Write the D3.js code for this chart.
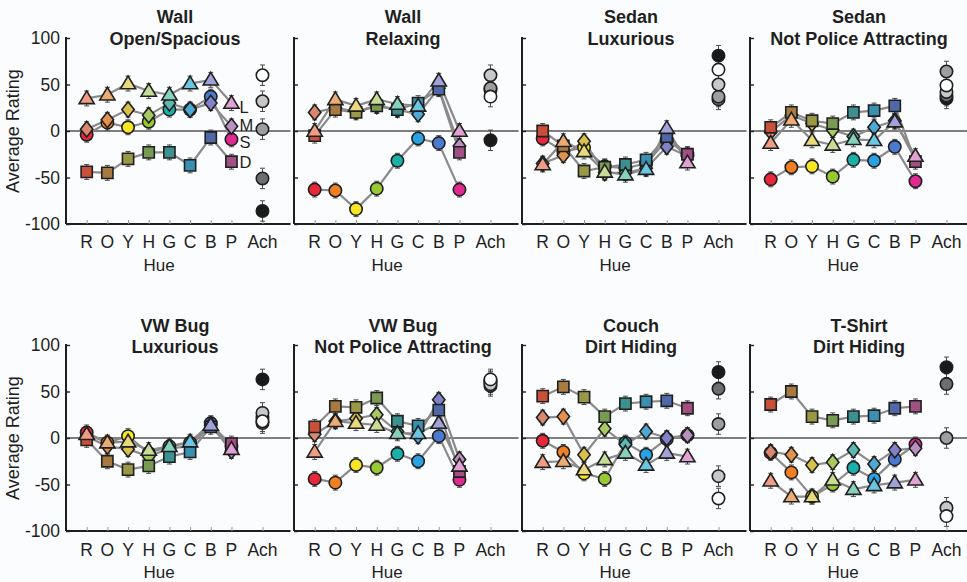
<!DOCTYPE html>
<html>
<head>
<meta charset="utf-8">
<script src="https://cdn.jsdelivr.net/npm/d3@7"></script>
<style>
  html, body { margin: 0; padding: 0; background: #fbfcfe; }
  svg { display: block; font-family: "Liberation Sans", Arial, Helvetica, sans-serif; }
</style>
</head>
<body>
<svg id="chart" width="967" height="582"></svg>
<script>
// Hue categories along the x axis, followed by the achromatic column
const HUES = ["R", "O", "Y", "H", "G", "C", "B", "P"];
const ACH_LABEL = "Ach";
const Y_TICKS = [100, 50, 0, -50, -100];

// Panel titles (object, adjective)
const PANEL_TITLES = [
  ["Wall", "Open/Spacious"],
  ["Wall", "Relaxing"],
  ["Sedan", "Luxurious"],
  ["Sedan", "Not Police Attracting"],
  ["VW Bug", "Luxurious"],
  ["VW Bug", "Not Police Attracting"],
  ["Couch", "Dirt Hiding"],
  ["T-Shirt", "Dirt Hiding"]
];

// Average ratings per panel, one value per hue (R..P)
const LIGHT_VALUES = [      // L: light colours (triangles)
  [35, 39, 51, 43, 39, 51, 55, 30],
  [0, 34, 27, 34, 29, 27, 54, 0],
  [-36, -11, -22, -44, -47, -41, 3, -34],
  [-13, 12, -10, -15, -9, -10, 10, -27],
  [4, -5, -4, -13, -9, -4, 14, -12],
  [-15, 18, 16, 14, 5, 5, 16, -30],
  [-26, -25, -34, -23, -16, -29, -16, -20],
  [-46, -63, -63, -45, -55, -51, -48, -45]
];
const MUTED_VALUES = [      // M: muted colours (diamonds)
  [2, 12, 23, 17, 30, 23, 30, 5],
  [20, 25, 21, 27, 23, 18, 46, -16],
  [-35, -26, -11, -45, -45, -40, -17, -27],
  [-1, 17, 8, 1, -6, 4, 11, -31],
  [2, -9, -12, -20, -11, -9, 14, -14],
  [4, 18, 21, 25, 7, 2, 41, -23],
  [22, 23, -18, 10, -7, 7, 0, 3],
  [-15, -18, -29, -26, -13, -28, -13, -11]
];
const SAT_VALUES = [        // S: saturated colours (circles)
  [-4, 9, 4, 10, 23, 23, 37, -9],
  [-63, -64, -84, -62, -32, -8, -13, -63],
  [-8, -22, -18, -38, -40, -35, -10, -25],
  [-52, -39, -38, -49, -31, -32, -17, -54],
  [6, -5, 2, -16, -9, -5, 16, -9],
  [-44, -48, -29, -32, -17, -25, 2, -45],
  [-3, -15, -38, -44, -5, -18, -1, 3],
  [-16, -37, -63, -50, -32, -44, -23, -7]
];
const DARK_VALUES = [       // D: dark colours (squares)
  [-44, -45, -30, -23, -23, -37, -7, -33],
  [-5, 23, 20, 27, 23, 30, 45, -23],
  [0, -16, -43, -39, -36, -31, -6, -25],
  [4, 20, 11, 8, 20, 22, 27, -33],
  [-2, -25, -34, -30, -20, -15, 12, -6],
  [12, 34, 33, 43, 18, 13, 30, -36],
  [45, 55, 44, 23, 37, 39, 40, 32],
  [36, 50, 23, 19, 23, 24, 32, 34]
];
// Achromatic ratings per panel: [white, light gray, mid gray, dark gray, black]
const ACH_VALUES = [
  [60, 32, 2, -51, -86],
  [37, 60, 46, 44, -10],
  [66, 50, 37, 34, 81],
  [49, 42, 64, 38, 35],
  [18, 27, 22, 16, 63],
  [63, 58, 60, 56, 61],
  [-65, -41, 15, 53, 71],
  [-84, -75, 0, 58, 76]
];
const HUE_ERR = 8;   // half-length of error bars, rating units
const ACH_ERR = 11;

// Marker fills per lightness series
const LIGHT_COLORS = ["#ee9c84", "#eaac74", "#e8d87e", "#c8dc96", "#86d0bc", "#6cc6e0", "#a2a2da", "#e0a2d2"];
const MUTED_COLORS = ["#d8886e", "#e0924e", "#d8c04a", "#a8c862", "#5cb8b0", "#4ea8d2", "#8282c8", "#b890c2"];
const SAT_COLORS   = ["#e8283a", "#f08022", "#f8e622", "#98c832", "#1ab0aa", "#2aa2e2", "#4a7ad0", "#e02a92"];
const DARK_COLORS  = ["#c85038", "#a87a42", "#989846", "#789a52", "#3c9090", "#3a90b2", "#5068a8", "#a05082"];
const ACH_COLORS   = ["#ffffff", "#c8c8c8", "#9e9e9e", "#6e6e6e", "#1a1a1a"];

const SERIES = [   // drawing order: circles, diamonds, squares, triangles
  { key: "S", shape: "circle",   values: SAT_VALUES,   colors: SAT_COLORS },
  { key: "M", shape: "diamond",  values: MUTED_VALUES, colors: MUTED_COLORS },
  { key: "D", shape: "square",   values: DARK_VALUES,  colors: DARK_COLORS },
  { key: "L", shape: "triangle", values: LIGHT_VALUES, colors: LIGHT_COLORS }
];

const svg = d3.select("#chart");
const COL_LEFT = [66, 294, 522, 750];
const ROWS = [
  { top: 38, bottom: 224, title: [23, 45], tick: 248, hue: 271 },
  { top: 345, bottom: 531, title: [332, 353], tick: 556, hue: 578 }
];
const PANEL_W = 227.5;
const INK = "#1f1f1f";

function markerPath(shape) {
  switch (shape) {
    case "triangle": return "M0,-7.5L7.6,5.2L-7.6,5.2Z";
    case "diamond":  return "M0,-7.8L6.2,0L0,7.8L-6.2,0Z";
    case "square":   return "M-5.6,-5.6H5.6V5.6H-5.6Z";
    default:         return d3.symbol(d3.symbolCircle, Math.PI * 6.2 * 6.2)();
  }
}

PANEL_TITLES.forEach((title, p) => {
  const row = ROWS[Math.floor(p / 4)];
  const col = p % 4;
  const left = COL_LEFT[col];
  const x = d3.scaleLinear().domain([0, 11]).range([left, left + PANEL_W]);
  const y = d3.scaleLinear().domain([-100, 100]).range([row.bottom, row.top]);
  const g = svg.append("g");

  // zero reference line
  g.append("line")
    .attr("x1", left).attr("x2", left + PANEL_W - 3)
    .attr("y1", y(0)).attr("y2", y(0))
    .attr("stroke", "#555").attr("stroke-width", 1.4);

  // y axis with inward ticks
  const yAxis = d3.axisRight(y).tickValues(Y_TICKS).tickSize(4).tickFormat("");
  const ya = g.append("g").attr("transform", `translate(${left},0)`).call(yAxis);
  ya.select(".domain").attr("d", `M0,${row.top - 1}V${row.bottom}`).attr("stroke", INK).attr("stroke-width", 2);
  ya.selectAll(".tick line").attr("stroke", INK).attr("stroke-width", 1.4);

  // x axis with inward ticks at each category
  const xPositions = HUES.map((h, i) => i + 1).concat([9.5]);
  const xAxis = d3.axisTop(x).tickValues(xPositions).tickSize(4).tickFormat("");
  const xa = g.append("g").attr("transform", `translate(0,${row.bottom})`).call(xAxis);
  xa.select(".domain").attr("d", `M${left},0H${left + PANEL_W - 3}`).attr("stroke", INK).attr("stroke-width", 2);
  xa.selectAll(".tick line").attr("stroke", "#999").attr("stroke-width", 1);

  // category labels
  const labels = HUES.concat([ACH_LABEL]);
  g.selectAll(".xl").data(labels).enter().append("text")
    .attr("x", (d, i) => x(xPositions[i])).attr("y", row.tick)
    .attr("text-anchor", "middle").attr("font-size", 17.5).attr("fill", INK)
    .text(d => d);
  g.append("text").attr("x", x(4.5)).attr("y", row.hue)
    .attr("text-anchor", "middle").attr("font-size", 17).attr("fill", INK).text("Hue");

  // titles
  title.forEach((t, i) => {
    g.append("text").attr("x", left + 109).attr("y", row.title[i])
      .attr("text-anchor", "middle").attr("font-size", 18).attr("font-weight", "bold")
      .attr("fill", INK).text(t);
  });

  // y tick labels and axis title on the first column only
  if (col === 0) {
    g.selectAll(".yl").data(Y_TICKS).enter().append("text")
      .attr("x", left - 6).attr("y", d => y(d)).attr("dy", "0.36em")
      .attr("text-anchor", "end").attr("font-size", 17.5).attr("fill", INK)
      .text(d => d);
    g.append("text")
      .attr("transform", `translate(19,${y(0)}) rotate(-90)`)
      .attr("text-anchor", "middle").attr("font-size", 18).attr("fill", INK)
      .text("Average Rating");
  }

  // connecting lines
  const line = d3.line().x((d, i) => x(i + 1)).y(d => y(d));
  SERIES.forEach(s => {
    g.append("path").attr("d", line(s.values[p]))
      .attr("fill", "none").attr("stroke", "#8a8a8a").attr("stroke-width", 2.2);
  });

  // error bars
  const eb = g.append("g").attr("stroke", "#4a4a4a").attr("stroke-width", 1);
  function errorBar(cx, v, err) {
    eb.append("line").attr("x1", cx).attr("x2", cx).attr("y1", y(v - err)).attr("y2", y(v + err));
    [v - err, v + err].forEach(e => eb.append("line")
      .attr("x1", cx - 2.5).attr("x2", cx + 2.5).attr("y1", y(e)).attr("y2", y(e)));
  }
  SERIES.forEach(s => s.values[p].forEach((v, i) => errorBar(x(i + 1), v, HUE_ERR)));
  ACH_VALUES[p].forEach(v => errorBar(x(9.5), v, ACH_ERR));

  // hue markers
  SERIES.forEach(s => {
    g.selectAll(null).data(s.values[p]).enter().append("path")
      .attr("d", markerPath(s.shape))
      .attr("transform", (d, i) => `translate(${x(i + 1)},${y(d)})`)
      .attr("fill", (d, i) => s.colors[i])
      .attr("stroke", INK).attr("stroke-width", 1.6);
  });

  // achromatic markers, black first so lighter circles sit on top
  const achOrder = [4, 3, 2, 1, 0];
  achOrder.forEach(k => {
    g.append("circle")
      .attr("cx", x(9.5)).attr("cy", y(ACH_VALUES[p][k])).attr("r", 6.2)
      .attr("fill", ACH_COLORS[k]).attr("stroke", INK).attr("stroke-width", 1.6);
  });

  // series key next to the purple markers in the first panel
  if (p === 0) {
    const keyOffsets = { L: 4, M: -1, S: 3, D: 0 };
    SERIES.forEach(s => {
      g.append("text")
        .attr("x", x(8) + 8).attr("y", y(s.values[p][7]) + keyOffsets[s.key])
        .attr("dy", "0.36em").attr("font-size", 16.5).attr("fill", INK)
        .text(s.key);
    });
  }
});
</script>
</body>
</html>
